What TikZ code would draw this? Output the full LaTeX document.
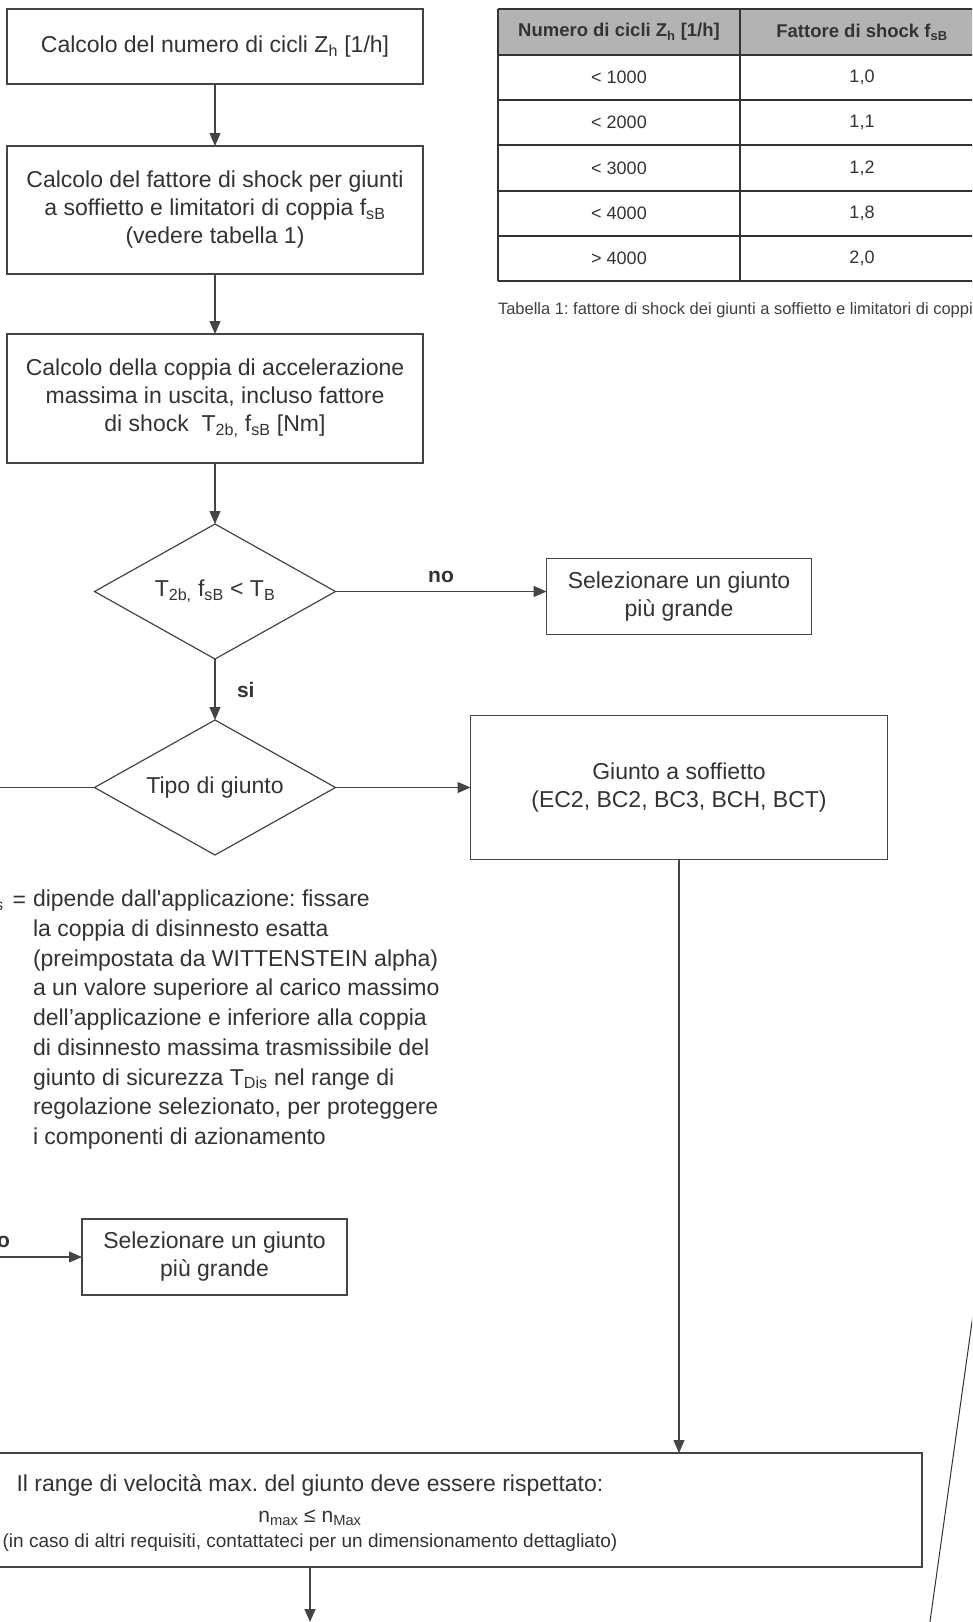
\documentclass[tikz,border=0pt]{standalone}
\usepackage{fontspec}
\setmainfont{Liberation Sans}
\usepackage{xcolor}
\usetikzlibrary{shapes.geometric, arrows.meta, positioning}
\definecolor{ink}{HTML}{333333}
\definecolor{rule}{HTML}{444444}
\definecolor{headgray}{HTML}{B3B3B3}
\frenchspacing

\begin{document}
\begin{tikzpicture}[
  x=1pt, y=-1pt,
  node distance=61pt and 135pt,
  every node/.style={text=ink, inner sep=0pt, outer sep=0pt},
  box/.style={draw=rule, line width=1.2pt, minimum width=416pt, align=center,
              font=\fontsize{23}{28}\selectfont},
  pick/.style={box, minimum width=265pt, minimum height=76pt},
  test/.style={diamond, aspect=1.8, draw=rule, line width=1.2pt, minimum width=241pt,
               minimum height=135pt, font=\fontsize{23}{28}\selectfont},
  lbl/.style={font=\bfseries\fontsize{21}{24}\selectfont},
  arr/.style={-{Triangle[length=13pt, width=11pt]}, line width=1.2pt, draw=rule},
  cell/.style={font=\fontsize{18}{22}\selectfont},
  head/.style={font=\bfseries\fontsize{18.5}{22}\selectfont},
  grid/.style={draw=black!80, line width=1.2pt}
]
\useasboundingbox (0,0) rectangle (972,1622);
\clip (0,0) rectangle (972,1622);

% table 1
\fill[headgray] (498,9) rectangle (990,55);
\foreach \y in {9,55,100,145,191,236,281}
  \draw[grid] (498,\y) -- (990,\y);
\draw[grid] (498,9) -- (498,281);
\draw[grid] (740,9) -- (740,281);
\node[head] (hz) at (619,32) {Numero di cicli Z\textsubscript{h} [1/h]};
\node[head] (hf) at (862,32) {Fattore di shock f\textsubscript{sB}};
\foreach \z/\f [count=\i] in {<~1000/1{,}0, <~2000/1{,}1, <~3000/1{,}2, <~4000/1{,}8, >~4000/2{,}0}{
  \node[cell] (z\i) at (619,{55+45.2*(\i-0.5)}) {\z};
  \node[cell] (f\i) at (862,{55+45.2*(\i-0.5)}) {\f};
}
\node[anchor=west, font=\fontsize{16.5}{19}\selectfont, text=black!75] (caption) at (498,310)
  {Tabella 1: fattore di shock dei giunti a soffietto e limitatori di coppia};

% flow
\node[box, minimum height=75pt] (cycles) at (215,46.5) {Calcolo del numero di cicli Z\textsubscript{h} [1/h]};
\node[box, minimum height=128pt, below=62pt of cycles] (shock) {Calcolo del fattore di shock per giunti\\a soffietto e limitatori di coppia f\textsubscript{sB}\\(vedere tabella 1)};
\node[box, minimum height=129pt, below=60pt of shock] (accel) {Calcolo della coppia di accelerazione\\massima in uscita, incluso fattore\\di shock~ T\textsubscript{2b,} f\textsubscript{sB} [Nm]};
\node[test, below=of accel] (check) {T\textsubscript{2b,} f\textsubscript{sB} < T\textsubscript{B}};
\node[pick, right=211pt of check, yshift=-5pt] (bigger) {Selezionare un giunto\\più grande};
\node[test, below=of check] (kind) {Tipo di giunto};
\node[box, minimum width=417pt, minimum height=144pt, right=of kind] (bellows) {Giunto a soffietto\\(EC2, BC2, BC3, BCH, BCT)};
\node[pick] (bigger2) at (214.5,1257) {Selezionare un giunto\\più grande};
\node[box, minimum width=1224pt, minimum height=114pt] (speed) at (310,1510) {};
\node[font=\fontsize{23}{28}\selectfont] (speedA) at (310,1485) {Il range di velocità max. del giunto deve essere rispettato:};
\node[font=\fontsize{21}{24}\selectfont] (speedB) at (310,1518) {n\textsubscript{max} ≤ n\textsubscript{Max}};
\node[font=\fontsize{19}{22}\selectfont] (speedC) at (310,1543) {(in caso di altri requisiti, contattateci per un dimensionamento dettagliato)};

% torque limiter note
\node[anchor=base east, font=\fontsize{23}{29.75}\selectfont] (tdis) at (26,907) {T\textsubscript{Dis}\hspace{2.5pt} =};
\node[anchor=north west, align=left, font=\fontsize{23}{29.75}\selectfont] (note) at (33,890)
  {dipende dall\textquotesingle applicazione: fissare\\
   la coppia di disinnesto esatta\\
   (preimpostata da WITTENSTEIN alpha)\\
   a un valore superiore al carico massimo\\
   dell’applicazione e inferiore alla coppia\\
   di disinnesto massima trasmissibile del\\
   giunto di sicurezza T\textsubscript{Dis} nel range di\\
   regolazione selezionato, per proteggere\\
   i componenti di azionamento};

\coordinate (kindout) at (-20,0);
\coordinate (feed) at (-88,0);
\coordinate (exit) at (310,1622);

\draw[arr] (cycles) -- (shock);
\draw[arr] (shock) -- (accel);
\draw[arr] (accel) -- (check);
\draw[arr] (check.east) -- node[lbl, above=9pt] (no1) {no} (check.east -| bigger.west);
\draw[arr] (check) -- node[lbl, right=22pt] (yes) {si} (kind);
\draw[arr] (kind) -- (bellows);
\draw[draw=rule, line width=1.2pt] (kind.west) -- (kind.west -| kindout);
\draw[arr] (bigger2 -| feed) -- node[lbl, above=9pt] (no2) {no} (bigger2);
\draw[arr] (bellows) -- (bellows |- speed.north);
\draw[arr] (speed.south) -- (exit);

% edge of the next figure
\draw[draw=black!80, line width=1pt] (980,1265) -- (926,1650);
\end{tikzpicture}
\end{document}
